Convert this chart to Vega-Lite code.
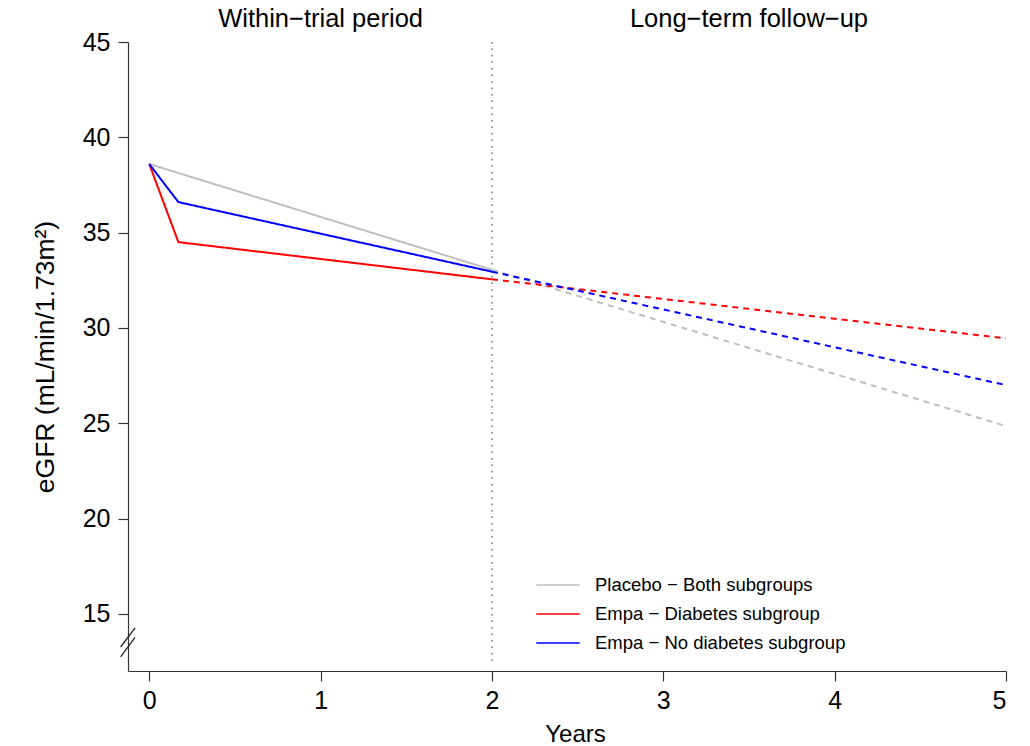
{
  "$schema": "https://vega.github.io/schema/vega-lite/v6.json",
  "width": 878,
  "height": 629,
  "autosize": {"type": "none"},
  "padding": {"left": 128, "top": 42, "right": 24, "bottom": 75},
  "background": "white",
  "config": {
    "view": {"stroke": null},
    "font": "Liberation Sans",
    "axis": {
      "grid": false,
      "domainColor": "#333333",
      "tickColor": "#333333",
      "labelColor": "#000000",
      "titleColor": "#000000",
      "labelFont": "Liberation Sans",
      "titleFont": "Liberation Sans",
      "labelFontSize": 25,
      "titleFontSize": 24,
      "titleFontWeight": "normal",
      "tickSize": 10,
      "domainWidth": 1.2,
      "tickWidth": 1.2
    }
  },
  "datasets": {
    "series": [
      {"group": "Placebo − Both subgroups", "segment": "solid", "years": 0, "egfr": 38.6},
      {"group": "Placebo − Both subgroups", "segment": "solid", "years": 2, "egfr": 33.05},
      {"group": "Placebo − Both subgroups", "segment": "dashed", "years": 2, "egfr": 33.05},
      {"group": "Placebo − Both subgroups", "segment": "dashed", "years": 5, "egfr": 24.85},
      {"group": "Empa − Diabetes subgroup", "segment": "solid", "years": 0, "egfr": 38.6},
      {"group": "Empa − Diabetes subgroup", "segment": "solid", "years": 0.17, "egfr": 34.5},
      {"group": "Empa − Diabetes subgroup", "segment": "solid", "years": 2, "egfr": 32.55},
      {"group": "Empa − Diabetes subgroup", "segment": "dashed", "years": 2, "egfr": 32.55},
      {"group": "Empa − Diabetes subgroup", "segment": "dashed", "years": 5, "egfr": 29.45},
      {"group": "Empa − No diabetes subgroup", "segment": "solid", "years": 0, "egfr": 38.6},
      {"group": "Empa − No diabetes subgroup", "segment": "solid", "years": 0.17, "egfr": 36.6},
      {"group": "Empa − No diabetes subgroup", "segment": "solid", "years": 2, "egfr": 32.95},
      {"group": "Empa − No diabetes subgroup", "segment": "dashed", "years": 2, "egfr": 32.95},
      {"group": "Empa − No diabetes subgroup", "segment": "dashed", "years": 5, "egfr": 27.0}
    ],
    "headers": [
      {"label": "Within−trial period", "years": 1, "egfr": 46.2},
      {"label": "Long−term follow−up", "years": 3.5, "egfr": 46.2}
    ],
    "divider": [
      {"years": 2, "egfr": 45, "egfr2": 12.35}
    ],
    "axisbreak": [
      {"years": -0.167, "years2": -0.083, "egfr": 13.26, "egfr2": 14.26},
      {"years": -0.167, "years2": -0.083, "egfr": 12.74, "egfr2": 13.76}
    ]
  },
  "layer": [
    {
      "data": {"name": "divider"},
      "mark": {"type": "rule", "color": "#555555", "strokeWidth": 1.2, "strokeDash": [1.5, 5]},
      "encoding": {
        "x": {"field": "years", "type": "quantitative"},
        "y": {"field": "egfr", "type": "quantitative"},
        "y2": {"field": "egfr2"}
      }
    },
    {
      "data": {"name": "series"},
      "mark": {"type": "line", "strokeWidth": 2},
      "encoding": {
        "x": {
          "field": "years",
          "type": "quantitative",
          "scale": {"domain": [-0.124, 5], "nice": false, "zero": false},
          "axis": {"values": [0, 1, 2, 3, 4, 5], "format": "d", "title": "Years", "labelPadding": 7, "titlePadding": 9, "titleX": 447}
        },
        "y": {
          "field": "egfr",
          "type": "quantitative",
          "scale": {"domain": [12, 45], "nice": false, "zero": false},
          "axis": {"values": [15, 20, 25, 30, 35, 40, 45], "title": "eGFR (mL/min/1.73m²)", "titleFontSize": 26.5, "labelPadding": 8, "titlePadding": 23}
        },
        "color": {
          "field": "group",
          "type": "nominal",
          "scale": {
            "domain": ["Placebo − Both subgroups", "Empa − Diabetes subgroup", "Empa − No diabetes subgroup"],
            "range": ["#BEBEBE", "#FF0000", "#0000FF"]
          },
          "legend": {
            "title": null,
            "orient": "none",
            "legendX": 414.5,
            "legendY": 527.5,
            "symbolType": "M-1.5,0H1.5",
            "symbolSize": 841,
            "symbolStrokeWidth": 1.3,
            "labelFontSize": 18.5,
            "labelFont": "Liberation Sans",
            "labelColor": "#000000",
            "labelOffset": 21.5,
            "labelLimit": 0,
            "rowPadding": 4
          }
        },
        "strokeDash": {
          "field": "segment",
          "type": "nominal",
          "scale": {"domain": ["solid", "dashed"], "range": [[1, 0], [6, 5]]},
          "legend": null
        },
        "detail": {"field": "group"},
        "order": {"field": "years", "type": "quantitative"}
      }
    },
    {
      "data": {"name": "headers"},
      "mark": {"type": "text", "fontSize": 25.5, "font": "Liberation Sans", "color": "#000000", "baseline": "middle"},
      "encoding": {
        "x": {"field": "years", "type": "quantitative"},
        "y": {"field": "egfr", "type": "quantitative"},
        "text": {"field": "label"}
      }
    },
    {
      "data": {"name": "axisbreak"},
      "mark": {"type": "rule", "color": "#222222", "strokeWidth": 1.3},
      "encoding": {
        "x": {"field": "years", "type": "quantitative"},
        "x2": {"field": "years2"},
        "y": {"field": "egfr", "type": "quantitative"},
        "y2": {"field": "egfr2"}
      }
    }
  ]
}
